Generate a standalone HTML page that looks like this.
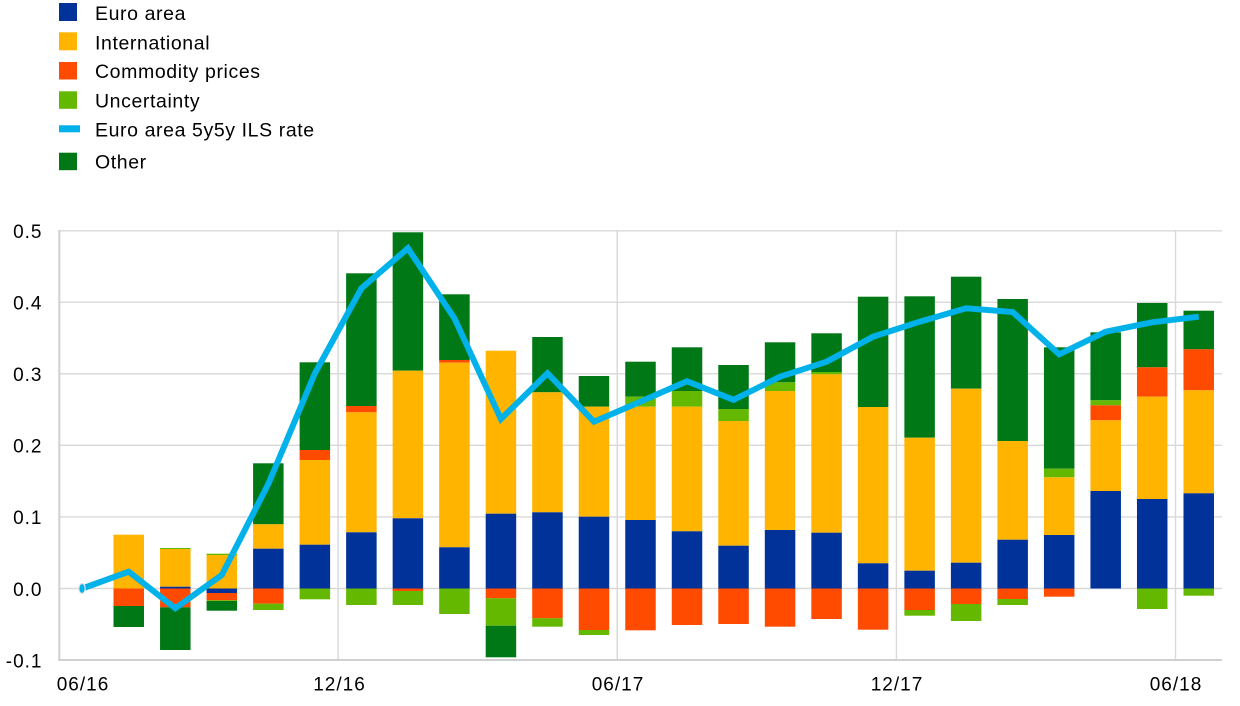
<!DOCTYPE html>
<html><head><meta charset="utf-8"><style>
html,body{margin:0;padding:0;background:#fff;width:1240px;height:706px;overflow:hidden}
svg{display:block}
text{font-family:"Liberation Sans",Arial,sans-serif;fill:#000}
.lg{font-size:19.5px;letter-spacing:0.6px}
.tk{font-size:19px;letter-spacing:1px}
</style></head><body>
<svg width="1240" height="706" viewBox="0 0 1240 706" xmlns="http://www.w3.org/2000/svg">
<!-- legend -->
<rect x="59" y="3" width="18" height="18" fill="#003299"/>
<rect x="59" y="32.3" width="18" height="18" fill="#FFB400"/>
<rect x="59" y="62" width="18" height="17.5" fill="#FF4B00"/>
<rect x="59" y="91.3" width="18" height="17.5" fill="#65B800"/>
<rect x="59" y="125.3" width="21" height="7" fill="#00B1EA"/>
<rect x="59" y="152.7" width="18" height="17.5" fill="#007816"/>
<text class="lg" x="95" y="20">Euro area</text>
<text class="lg" x="95" y="49.3">International</text>
<text class="lg" x="95" y="78">Commodity prices</text>
<text class="lg" x="95" y="107.3">Uncertainty</text>
<text class="lg" x="95" y="136.7">Euro area 5y5y ILS rate</text>
<text class="lg" x="95" y="168.3">Other</text>

<!-- gridlines -->
<g stroke="#d9d9d9" stroke-width="1.4">
<line x1="59" y1="230.8" x2="1222" y2="230.8"/>
<line x1="59" y1="302.3" x2="1222" y2="302.3"/>
<line x1="59" y1="373.8" x2="1222" y2="373.8"/>
<line x1="59" y1="445.3" x2="1222" y2="445.3"/>
<line x1="59" y1="516.9" x2="1222" y2="516.9"/>
<line x1="59" y1="588.5" x2="1222" y2="588.5"/>
<line x1="338.1" y1="230" x2="338.1" y2="660"/>
<line x1="617.2" y1="230" x2="617.2" y2="660"/>
<line x1="896.4" y1="230" x2="896.4" y2="660"/>
<line x1="1175.5" y1="230" x2="1175.5" y2="660"/>
</g>
<g stroke="#d0d0d0" stroke-width="2">
<line x1="59.3" y1="230" x2="59.3" y2="661"/>
<line x1="58.3" y1="660" x2="1222" y2="660"/>
</g>

<!-- bars -->
<g>
<!-- i1 -->
<rect x="113.5" y="534.7" width="30.5" height="53.8" fill="#FFB400"/>
<rect x="113.5" y="588.5" width="30.5" height="17.5" fill="#FF4B00"/>
<rect x="113.5" y="606" width="30.5" height="21" fill="#007816"/>
<!-- i2 -->
<rect x="160.05" y="548" width="30.5" height="1" fill="#65B800"/>
<rect x="160.05" y="549" width="30.5" height="37.7" fill="#FFB400"/>
<rect x="160.05" y="586.7" width="30.5" height="1.8" fill="#003299"/>
<rect x="160.05" y="588.5" width="30.5" height="18.8" fill="#FF4B00"/>
<rect x="160.05" y="607.3" width="30.5" height="42.7" fill="#007816"/>
<!-- i3 -->
<rect x="206.57" y="553.7" width="30.5" height="1.3" fill="#65B800"/>
<rect x="206.57" y="555" width="30.5" height="33.5" fill="#FFB400"/>
<rect x="206.57" y="588.5" width="30.5" height="4.5" fill="#003299"/>
<rect x="206.57" y="593" width="30.5" height="7.3" fill="#FF4B00"/>
<rect x="206.57" y="600.3" width="30.5" height="0.7" fill="#65B800"/>
<rect x="206.57" y="601" width="30.5" height="9.7" fill="#007816"/>
<!-- i4 -->
<rect x="253.09" y="463.3" width="30.5" height="61" fill="#007816"/>
<rect x="253.09" y="524.3" width="30.5" height="24.4" fill="#FFB400"/>
<rect x="253.09" y="548.7" width="30.5" height="39.8" fill="#003299"/>
<rect x="253.09" y="588.5" width="30.5" height="15.2" fill="#FF4B00"/>
<rect x="253.09" y="603.7" width="30.5" height="6.3" fill="#65B800"/>
<!-- i5 -->
<rect x="299.61" y="362.3" width="30.5" height="87.7" fill="#007816"/>
<rect x="299.61" y="450" width="30.5" height="10" fill="#FF4B00"/>
<rect x="299.61" y="460" width="30.5" height="84.7" fill="#FFB400"/>
<rect x="299.61" y="544.7" width="30.5" height="43.8" fill="#003299"/>
<rect x="299.61" y="588.5" width="30.5" height="10.8" fill="#65B800"/>
<!-- i6 -->
<rect x="346.13" y="273.3" width="30.5" height="132.7" fill="#007816"/>
<rect x="346.13" y="406" width="30.5" height="6.3" fill="#FF4B00"/>
<rect x="346.13" y="412.3" width="30.5" height="120" fill="#FFB400"/>
<rect x="346.13" y="532.3" width="30.5" height="56.2" fill="#003299"/>
<rect x="346.13" y="588.5" width="30.5" height="16.5" fill="#65B800"/>
<!-- i7 -->
<rect x="392.65" y="232.3" width="30.5" height="138.4" fill="#007816"/>
<rect x="392.65" y="370.7" width="30.5" height="147.6" fill="#FFB400"/>
<rect x="392.65" y="518.3" width="30.5" height="70.2" fill="#003299"/>
<rect x="392.65" y="588.5" width="30.5" height="2.5" fill="#FF4B00"/>
<rect x="392.65" y="591" width="30.5" height="14" fill="#65B800"/>
<!-- i8 -->
<rect x="439.17" y="294.3" width="30.5" height="65.7" fill="#007816"/>
<rect x="439.17" y="360" width="30.5" height="2.7" fill="#FF4B00"/>
<rect x="439.17" y="362.7" width="30.5" height="184.6" fill="#FFB400"/>
<rect x="439.17" y="547.3" width="30.5" height="41.2" fill="#003299"/>
<rect x="439.17" y="588.5" width="30.5" height="25.5" fill="#65B800"/>
<!-- i9 -->
<rect x="485.69" y="350.7" width="30.5" height="163" fill="#FFB400"/>
<rect x="485.69" y="513.7" width="30.5" height="74.8" fill="#003299"/>
<rect x="485.69" y="588.5" width="30.5" height="9.8" fill="#FF4B00"/>
<rect x="485.69" y="598.3" width="30.5" height="27.4" fill="#65B800"/>
<rect x="485.69" y="625.7" width="30.5" height="31.6" fill="#007816"/>
<!-- i10 -->
<rect x="532.21" y="337" width="30.5" height="55.3" fill="#007816"/>
<rect x="532.21" y="392.3" width="30.5" height="120" fill="#FFB400"/>
<rect x="532.21" y="512.3" width="30.5" height="76.2" fill="#003299"/>
<rect x="532.21" y="588.5" width="30.5" height="29.8" fill="#FF4B00"/>
<rect x="532.21" y="618.3" width="30.5" height="8.4" fill="#65B800"/>
<!-- i11 -->
<rect x="578.73" y="376" width="30.5" height="30.7" fill="#007816"/>
<rect x="578.73" y="406.7" width="30.5" height="110" fill="#FFB400"/>
<rect x="578.73" y="516.7" width="30.5" height="71.8" fill="#003299"/>
<rect x="578.73" y="588.5" width="30.5" height="41.5" fill="#FF4B00"/>
<rect x="578.73" y="630" width="30.5" height="5" fill="#65B800"/>
<!-- i12 -->
<rect x="625.25" y="361.7" width="30.5" height="35" fill="#007816"/>
<rect x="625.25" y="396.7" width="30.5" height="10" fill="#65B800"/>
<rect x="625.25" y="406.7" width="30.5" height="113.3" fill="#FFB400"/>
<rect x="625.25" y="520" width="30.5" height="68.5" fill="#003299"/>
<rect x="625.25" y="588.5" width="30.5" height="41.8" fill="#FF4B00"/>
<!-- i13 -->
<rect x="671.77" y="347.3" width="30.5" height="43.7" fill="#007816"/>
<rect x="671.77" y="391" width="30.5" height="15.7" fill="#65B800"/>
<rect x="671.77" y="406.7" width="30.5" height="124.6" fill="#FFB400"/>
<rect x="671.77" y="531.3" width="30.5" height="57.2" fill="#003299"/>
<rect x="671.77" y="588.5" width="30.5" height="36.5" fill="#FF4B00"/>
<!-- i14 -->
<rect x="718.29" y="365" width="30.5" height="44" fill="#007816"/>
<rect x="718.29" y="409" width="30.5" height="12" fill="#65B800"/>
<rect x="718.29" y="421" width="30.5" height="124.7" fill="#FFB400"/>
<rect x="718.29" y="545.7" width="30.5" height="42.8" fill="#003299"/>
<rect x="718.29" y="588.5" width="30.5" height="35.5" fill="#FF4B00"/>
<!-- i15 -->
<rect x="764.81" y="342.3" width="30.5" height="40" fill="#007816"/>
<rect x="764.81" y="382.3" width="30.5" height="8.7" fill="#65B800"/>
<rect x="764.81" y="391" width="30.5" height="139" fill="#FFB400"/>
<rect x="764.81" y="530" width="30.5" height="58.5" fill="#003299"/>
<rect x="764.81" y="588.5" width="30.5" height="38.2" fill="#FF4B00"/>
<!-- i16 -->
<rect x="811.33" y="333.3" width="30.5" height="38.7" fill="#007816"/>
<rect x="811.33" y="372" width="30.5" height="2.3" fill="#65B800"/>
<rect x="811.33" y="374.3" width="30.5" height="158.4" fill="#FFB400"/>
<rect x="811.33" y="532.7" width="30.5" height="55.8" fill="#003299"/>
<rect x="811.33" y="588.5" width="30.5" height="30.5" fill="#FF4B00"/>
<!-- i17 -->
<rect x="857.85" y="296.7" width="30.5" height="110.3" fill="#007816"/>
<rect x="857.85" y="407" width="30.5" height="156.3" fill="#FFB400"/>
<rect x="857.85" y="563.3" width="30.5" height="25.2" fill="#003299"/>
<rect x="857.85" y="588.5" width="30.5" height="41.2" fill="#FF4B00"/>
<!-- i18 -->
<rect x="904.37" y="296.3" width="30.5" height="141.4" fill="#007816"/>
<rect x="904.37" y="437.7" width="30.5" height="133" fill="#FFB400"/>
<rect x="904.37" y="570.7" width="30.5" height="17.8" fill="#003299"/>
<rect x="904.37" y="588.5" width="30.5" height="21.5" fill="#FF4B00"/>
<rect x="904.37" y="610" width="30.5" height="5.7" fill="#65B800"/>
<!-- i19 -->
<rect x="950.89" y="276.7" width="30.5" height="112" fill="#007816"/>
<rect x="950.89" y="388.7" width="30.5" height="174" fill="#FFB400"/>
<rect x="950.89" y="562.7" width="30.5" height="25.8" fill="#003299"/>
<rect x="950.89" y="588.5" width="30.5" height="15.5" fill="#FF4B00"/>
<rect x="950.89" y="604" width="30.5" height="17" fill="#65B800"/>
<!-- i20 -->
<rect x="997.41" y="299" width="30.5" height="142" fill="#007816"/>
<rect x="997.41" y="441" width="30.5" height="98.7" fill="#FFB400"/>
<rect x="997.41" y="539.7" width="30.5" height="48.8" fill="#003299"/>
<rect x="997.41" y="588.5" width="30.5" height="10.5" fill="#FF4B00"/>
<rect x="997.41" y="599" width="30.5" height="6" fill="#65B800"/>
<!-- i21 -->
<rect x="1043.93" y="347.3" width="30.5" height="121.4" fill="#007816"/>
<rect x="1043.93" y="468.7" width="30.5" height="8.6" fill="#65B800"/>
<rect x="1043.93" y="477.3" width="30.5" height="57.7" fill="#FFB400"/>
<rect x="1043.93" y="535" width="30.5" height="53.5" fill="#003299"/>
<rect x="1043.93" y="588.5" width="30.5" height="8.2" fill="#FF4B00"/>
<!-- i22 -->
<rect x="1090.45" y="332.3" width="30.5" height="68" fill="#007816"/>
<rect x="1090.45" y="400.3" width="30.5" height="5" fill="#65B800"/>
<rect x="1090.45" y="405.3" width="30.5" height="15" fill="#FF4B00"/>
<rect x="1090.45" y="420.3" width="30.5" height="70.7" fill="#FFB400"/>
<rect x="1090.45" y="491" width="30.5" height="97.5" fill="#003299"/>
<!-- i23 -->
<rect x="1136.97" y="303" width="30.5" height="64.3" fill="#007816"/>
<rect x="1136.97" y="367.3" width="30.5" height="29.4" fill="#FF4B00"/>
<rect x="1136.97" y="396.7" width="30.5" height="102.3" fill="#FFB400"/>
<rect x="1136.97" y="499" width="30.5" height="89.5" fill="#003299"/>
<rect x="1136.97" y="588.5" width="30.5" height="20.5" fill="#65B800"/>
<!-- i24 -->
<rect x="1183.49" y="310.7" width="30.5" height="38.6" fill="#007816"/>
<rect x="1183.49" y="349.3" width="30.5" height="41" fill="#FF4B00"/>
<rect x="1183.49" y="390.3" width="30.5" height="103" fill="#FFB400"/>
<rect x="1183.49" y="493.3" width="30.5" height="95.2" fill="#003299"/>
<rect x="1183.49" y="588.5" width="30.5" height="7.2" fill="#65B800"/>
</g>

<!-- line -->
<polyline fill="none" stroke="#00B1EA" stroke-width="6" stroke-linejoin="miter" stroke-miterlimit="4"
points="82.3,588.5 128.8,571.7 175.3,608.3 221.8,575 268.3,484 314.9,373.3 361.4,288.3 407.9,248.3 454.4,318.3 500.9,419 547.5,373.3 594,421.7 640.5,401.6 687,381.2 733.5,399.8 780.1,376.7 826.6,361.7 873.1,336.7 919.6,321.7 966.1,308.3 1012.7,312 1059.2,354.3 1105.7,331.7 1152.2,322.3 1198.7,316.7"/>
<ellipse cx="82" cy="588.5" rx="3.2" ry="5" fill="#00B1EA" stroke="#e6e6e6" stroke-width="1.2"/>

<!-- y tick labels -->
<g class="tk" text-anchor="end">
<text x="42.5" y="238">0.5</text>
<text x="42.5" y="309.5">0.4</text>
<text x="42.5" y="381">0.3</text>
<text x="42.5" y="452.5">0.2</text>
<text x="42.5" y="524">0.1</text>
<text x="42.5" y="596">0.0</text>
<text x="42.5" y="667.3">-0.1</text>
</g>
<!-- x tick labels -->
<g class="tk" text-anchor="middle">
<text x="83" y="690.7">06/16</text>
<text x="339.5" y="690.7">12/16</text>
<text x="618" y="690.7">06/17</text>
<text x="897" y="690.7">12/17</text>
<text x="1176" y="690.7">06/18</text>
</g>
</svg>
</body></html>
